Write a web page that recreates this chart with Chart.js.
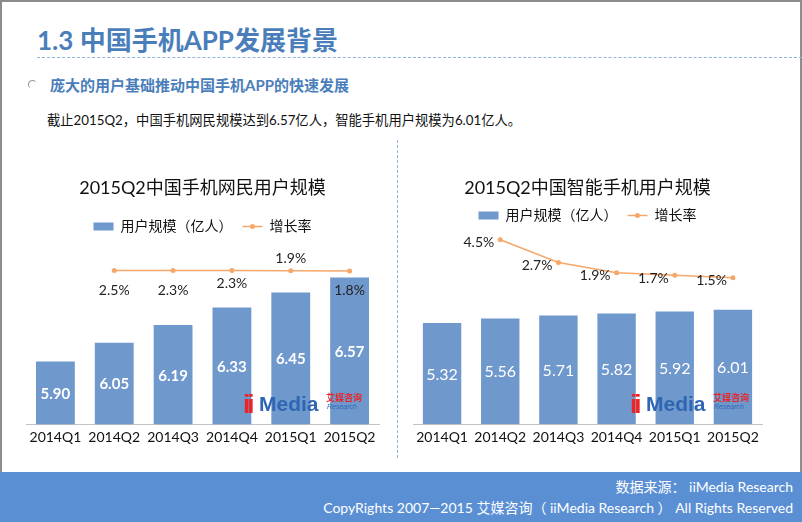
<!DOCTYPE html>
<html>
<head>
<meta charset="utf-8">
<script src="https://cdn.jsdelivr.net/npm/chart.js@4/dist/chart.umd.min.js"></script>
<style>
  body { margin: 0; }
  #page { position: relative; width: 802px; height: 522px; overflow: hidden; background: #fff;
          font-family: Lato, "Noto Sans CJK SC", sans-serif; }
  .frame { position: absolute; left: 0; top: 0; width: 798px; height: 480px; border: 2px solid #8c8c8c; }
  .title { position: absolute; left: 37px; top: 24px; font-size: 26px; line-height: 32px; font-weight: bold; color: #4a7ebb; }
  .dash { position: absolute; left: 37px; top: 57px; width: 765px; border-top: 1px dashed #8eb4e3; }
  .bullet { position: absolute; left: 28px; top: 80px; width: 7px; height: 7px; border: 1px solid #999;
            border-radius: 50%; border-right-color: transparent; border-bottom-color: transparent; }
  .sub { position: absolute; left: 50px; top: 76px; font-size: 15px; line-height: 18px; font-weight: bold; color: #4a7ebb; }
  .text { position: absolute; left: 47px; top: 111px; font-size: 13.3px; line-height: 18px; color: #111; }
  .vdash { position: absolute; left: 397px; top: 140px; height: 318px; border-left: 1px dashed #8eb4e3; }
  .footer { position: absolute; left: 0; top: 472px; width: 802px; height: 50px; background: #5a8fd4; color: #fff;
            font-size: 14px; text-align: right; }
  .footer div { position: absolute; right: 9px; line-height: 18px; white-space: nowrap; }
  .logo { position: absolute; width: 120px; height: 30px; font-family: "Liberation Sans", sans-serif; }
  .logo .ii { position: absolute; left: 0; top: 3px; font-size: 26px; font-weight: bold; color: #e8262a; letter-spacing: -3px; }
  .logo .m { position: absolute; left: 16px; top: 6px; font-size: 21px; font-weight: bold; color: #2f66b3; }
  .logo .cn { position: absolute; left: 83px; top: 5px; font-size: 9px; font-weight: bold; color: #e8262a; font-family: "Noto Sans CJK SC"; }
  .logo .en { position: absolute; left: 84px; top: 17px; font-size: 7px; font-style: italic; color: #2f66b3; }
  .cw { position: absolute; }
</style>
</head>
<body>
<div id="page">
  <div class="frame"></div>
  <div class="title">1.3 中国手机APP发展背景</div>
  <div class="dash"></div>
  <div class="bullet"></div>
  <div class="sub">庞大的用户基础推动中国手机APP的快速发展</div>
  <div class="text">截止2015Q2，中国手机网民规模达到6.57亿人，智能手机用户规模为6.01亿人。</div>
  <div class="vdash"></div>

  <div class="cw" style="left:10px;top:165px;"><canvas id="c1" width="385" height="290"></canvas></div>
  <div class="cw" style="left:405px;top:165px;"><canvas id="c2" width="385" height="290"></canvas></div>

  <div class="logo" style="left:243px;top:386px;"><span class="ii">ii</span><span class="m">Media</span><span class="cn">艾媒咨询</span><span class="en">Research</span></div>
  <div class="logo" style="left:630px;top:386px;"><span class="ii">ii</span><span class="m">Media</span><span class="cn">艾媒咨询</span><span class="en">Research</span></div>

  <div class="footer">
    <div style="top:6px;">数据来源： iiMedia Research</div>
    <div style="top:27px;">CopyRights 2007—2015 艾媒咨询（ iiMedia Research ） All Rights Reserved</div>
  </div>
</div>

<script>
const quarters = ['2014Q1', '2014Q2', '2014Q3', '2014Q4', '2015Q1', '2015Q2'];

// 中国手机网民用户规模
const mobileUsers = [5.90, 6.05, 6.19, 6.33, 6.45, 6.57];
const mobileGrowth = [null, 2.5, 2.3, 2.3, 1.9, 1.8];

// 中国智能手机用户规模
const smartUsers = [5.32, 5.56, 5.71, 5.82, 5.92, 6.01];
const smartGrowth = [null, 4.5, 2.7, 1.9, 1.7, 1.5];

const BAR = '#6f98cc';
const LINE = '#f6a76a';
const FONT = 'Lato, "Noto Sans CJK SC", sans-serif';

// draws value labels on bars and growth labels next to points
const valueLabels = {
  id: 'valueLabels',
  afterDatasetsDraw(chart, args, opts) {
    const ctx = chart.ctx;
    const bottom = chart.chartArea.bottom;
    ctx.save();
    chart.data.datasets.forEach((ds, i) => {
      const meta = chart.getDatasetMeta(i);
      meta.data.forEach((el, j) => {
        const v = ds.data[j];
        if (v === null) return;
        if (ds.type === 'line') {
          ctx.font = '14px ' + FONT;
          ctx.fillStyle = '#222';
          ctx.textBaseline = 'middle';
          if (opts.lineSide === 'left') {
            ctx.textAlign = 'right';
            ctx.fillText(v.toFixed(1) + '%', el.x - 6, el.y + 3);
          } else {
            ctx.textAlign = 'center';
            ctx.fillText(v.toFixed(1) + '%', el.x, el.y + opts.lineOffsets[j]);
          }
        } else {
          ctx.font = opts.barFont;
          ctx.fillStyle = '#fff';
          ctx.textAlign = 'center';
          ctx.textBaseline = 'middle';
          ctx.fillText(v.toFixed(2), el.x, (el.y + Math.min(el.base, bottom)) / 2 + 1);
        }
      });
    });
    ctx.restore();
  },
  afterDraw(chart) {
    // dot in the middle of the line legend marker
    const lg = chart.legend;
    if (!lg || !lg.legendHitBoxes[1]) return;
    const hb = lg.legendHitBoxes[1];
    const ctx = chart.ctx;
    ctx.save();
    ctx.fillStyle = LINE;
    ctx.beginPath();
    ctx.arc(hb.left + 10, hb.top + 7, 2.5, 0, Math.PI * 2);
    ctx.fill();
    ctx.restore();
  }
};

function makeChart(id, title, users, growth, cfg) {
  return new Chart(document.getElementById(id), {
    data: {
      labels: quarters,
      datasets: [{
        type: 'bar',
        label: '用户规模（亿人）',
        data: users,
        backgroundColor: BAR,
        barPercentage: 0.66,
        categoryPercentage: 1,
        yAxisID: 'y',
        order: 2
      }, {
        type: 'line',
        label: '增长率',
        data: growth,
        borderColor: LINE,
        backgroundColor: LINE,
        borderWidth: 1.5,
        pointRadius: 2.5,
        pointBackgroundColor: LINE,
        pointBorderWidth: 0,
        tension: 0,
        clip: false,
        yAxisID: 'y1',
        order: 1
      }]
    },
    options: {
      responsive: false,
      animation: false,
      layout: { padding: cfg.padding },
      scales: {
        x: {
          grid: { display: false, drawTicks: false },
          border: { display: true, color: '#c3c3c3', width: 1 },
          ticks: { color: '#111', font: { size: 14, family: FONT }, padding: 5 }
        },
        y: { display: false, min: cfg.yMin, max: cfg.yMax },
        y1: { display: false, min: cfg.y1Min, max: cfg.y1Max }
      },
      plugins: {
        title: {
          display: true,
          text: title,
          color: '#111',
          font: { size: 18, weight: 'normal', family: FONT },
          padding: cfg.titlePad
        },
        legend: {
          labels: {
            usePointStyle: true,
            pointStyleWidth: 20,
            boxHeight: 8,
            color: '#111',
            font: { size: 14, family: FONT },
            padding: 10,
            sort: (a, b) => a.datasetIndex - b.datasetIndex,
            generateLabels(chart) {
              const items = Chart.defaults.plugins.legend.labels.generateLabels(chart);
              items.forEach(it => {
                if (chart.data.datasets[it.datasetIndex].type === 'line') {
                  it.pointStyle = 'line';
                  it.strokeStyle = LINE;
                  it.lineWidth = 1.5;
                } else {
                  it.pointStyle = 'rect';
                }
              });
              return items;
            }
          }
        },
        tooltip: { enabled: false },
        valueLabels: cfg.labels
      }
    },
    plugins: [valueLabels]
  });
}

makeChart('c1', '2015Q2中国手机网民用户规模', mobileUsers, mobileGrowth, {
  padding: { left: 16, right: 16, top: 0, bottom: 4 },
  titlePad: { top: 12, bottom: 11 },
  yMin: 5.4, yMax: 6.84,
  y1Min: -200, y1Max: 37.8,
  labels: { barFont: 'bold 15px ' + FONT, lineSide: 'center', lineOffsets: [0, 20, 20, 13, -12, 20] }
});

makeChart('c2', '2015Q2中国智能手机用户规模', smartUsers, smartGrowth, {
  padding: { left: 8, right: 28, top: 0, bottom: 4 },
  titlePad: { top: 12, bottom: 0 },
  yMin: 0, yMax: 10.07,
  y1Min: -10.09, y1Max: 5.07,
  labels: { barFont: '16px ' + FONT, lineSide: 'left', lineOffsets: [] }
});
</script>
</body>
</html>
